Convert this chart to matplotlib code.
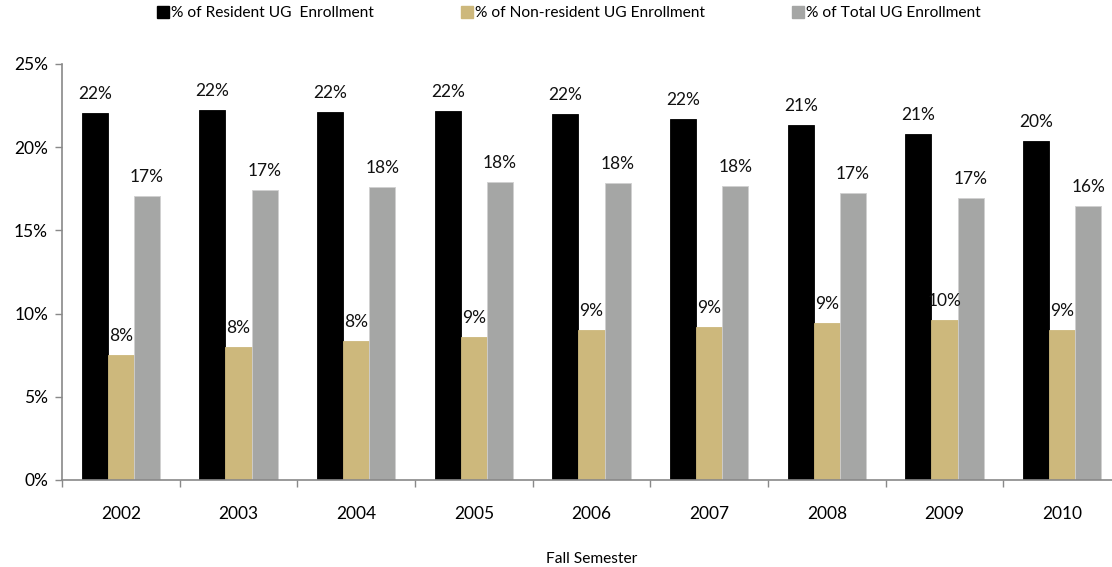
import matplotlib
matplotlib.use("Agg")
import matplotlib.pyplot as plt
from matplotlib.lines import Line2D
import numpy as np

years = ["2002", "2003", "2004", "2005", "2006", "2007", "2008", "2009", "2010"]
resident = [22.04, 22.24, 22.10, 22.18, 22.00, 21.67, 21.33, 20.77, 20.39]
nonresident = [7.52, 7.99, 8.35, 8.59, 9.01, 9.19, 9.42, 9.60, 9.03]
total = [17.07, 17.41, 17.59, 17.93, 17.83, 17.65, 17.23, 16.97, 16.47]
series_names = ["% of Resident UG  Enrollment", "% of Non-resident UG Enrollment", "% of Total UG Enrollment"]
colors = ["#000000", "#CDB87C", "#A5A6A5"]

plt.rcParams['font.family'] = ['Lato', 'DejaVu Sans']

W, H = 1112, 567
fig = plt.figure(figsize=(W / 100, H / 100), dpi=100)
ax = fig.add_axes([62 / W, (H - 480) / H, (1121 - 62) / W, (480 - 64) / H])

x = np.arange(len(years))
bw = 0.222
data = [resident, nonresident, total]
for i, (vals, c, name) in enumerate(zip(data, colors, series_names)):
    ec = "#D0D0D0" if i == 2 else c
    bars = ax.bar(x + (i - 1) * bw, vals, width=bw, color=c, edgecolor=ec, linewidth=0.6, label=name)
    ax.bar_label(bars, labels=[f"{int(v + 0.5)}%" for v in vals], padding=8, fontsize=12.5, color="#111111")

ax.set_ylim(0, 25)
ax.set_xlim(-0.5, len(years) - 0.5)
ax.set_yticks([0, 5, 10, 15, 20, 25])
ax.set_yticklabels([f"{v}%" for v in [0, 5, 10, 15, 20, 25]], fontsize=12.5)
ax.set_xticks(x)
ax.set_xticklabels(years, fontsize=12.5)
ax.set_xticks(np.arange(len(years)) - 0.5, minor=True)
ax.tick_params(axis='x', which='major', length=0, pad=19)
ax.tick_params(axis='x', which='minor', length=5, color="#898989", width=1)
ax.tick_params(axis='y', length=5, color="#898989", width=1, pad=5)

for s in ["top", "right"]:
    ax.spines[s].set_visible(False)
for s in ["left", "bottom"]:
    ax.spines[s].set_color("#898989")
    ax.spines[s].set_linewidth(1.2)

ax.set_xlabel("Fall Semester", fontsize=11.2, labelpad=21)

handles = [Line2D([], [], marker='s', linestyle='none', markersize=8.5, color=c) for c in colors]
fig.legend(handles, series_names, loc='center', bbox_to_anchor=(568 / W, 1 - 13 / H), ncol=3,
           frameon=False, fontsize=11.2, handletextpad=0.0, columnspacing=5.5, handlelength=1.0)

fig.savefig("out.png", dpi=100)
